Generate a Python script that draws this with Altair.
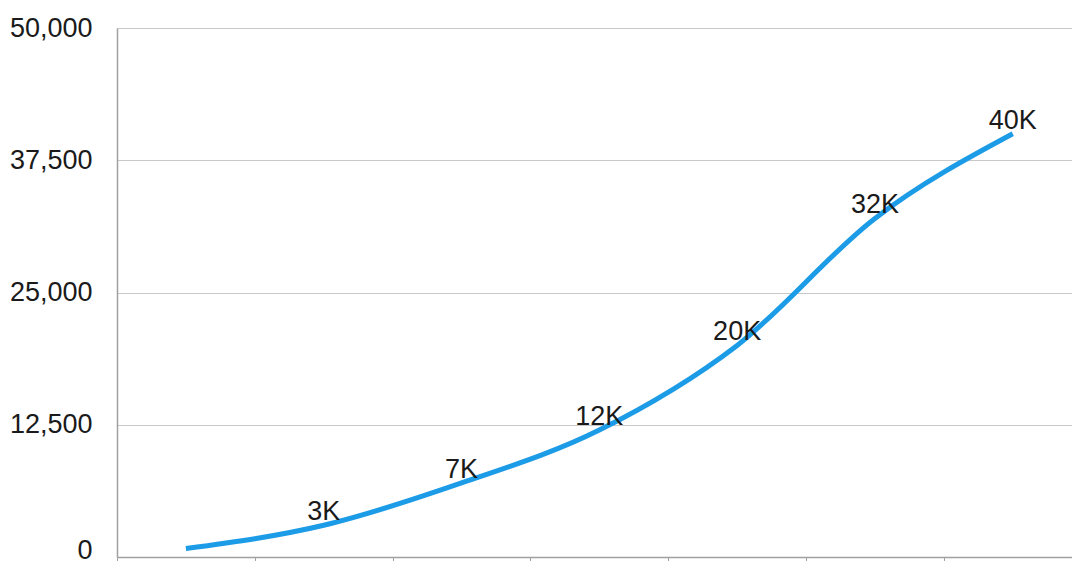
import altair as alt
import pandas as pd

labels = ["", "3K", "7K", "12K", "20K", "32K", "40K"]
values = [800, 3000, 7000, 12000, 20000, 32000, 40000]
y_ticks = [0, 12500, 25000, 37500, 50000]
x_ticks = [0, 1, 2, 3, 4, 5, 6]

df = pd.DataFrame({
    "pos": [i + 0.5 for i in range(len(values))],
    "value": values,
    "label": labels,
})

FONT = "Liberation Sans"

x_enc = alt.X(
    "pos:Q",
    scale=alt.Scale(domain=[0, 6.93], nice=False, zero=False),
    axis=alt.Axis(
        values=x_ticks, labels=False, title=None, grid=False,
        domainColor="#a0a0a0", domainWidth=1.5, tickColor="#a0a0a0", tickSize=5,
    ),
)
y_enc = alt.Y(
    "value:Q",
    scale=alt.Scale(domain=[0, 50000], nice=False),
    axis=alt.Axis(
        values=y_ticks, format=",.0f", title=None, grid=True,
        gridColor="#c8c8c8", gridWidth=1, ticks=False,
        domainColor="#a0a0a0", domainWidth=1.5,
        labelFont=FONT, labelFontSize=27, labelColor="#1a1a1a", labelPadding=25,
        labelOffset={"condition": {"test": "datum.value === 0", "value": -7}, "value": 0},
    ),
)

line = alt.Chart(df).mark_line(
    interpolate="monotone", color="#1c9be6", strokeWidth=5, strokeCap="butt"
).encode(x=x_enc, y=y_enc)

text = alt.Chart(df).mark_text(
    font=FONT, fontSize=27, color="#1a1a1a", baseline="alphabetic", dy=-5, align="center"
).encode(x="pos:Q", y="value:Q", text="label:N")

chart = (line + text).properties(
    width=955, height=529,
    autosize=alt.AutoSizeParams(type="none"),
    padding={"left": 109, "top": 20, "right": 0, "bottom": 4},
).configure_view(stroke=None).configure(background="white")

chart.save("out.html", embed_options={"renderer": "svg", "actions": False})
